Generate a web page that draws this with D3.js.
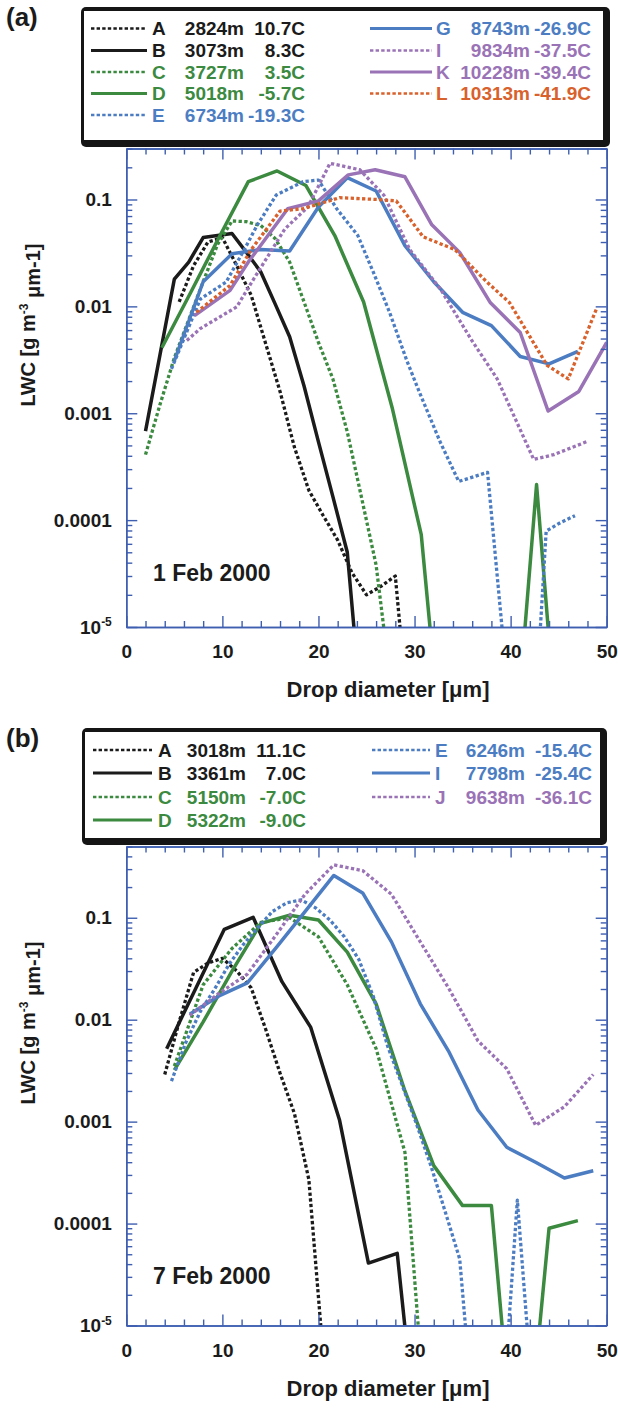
<!DOCTYPE html>
<html>
<head>
<meta charset="utf-8">
<script src="https://cdn.jsdelivr.net/npm/d3@7"></script>
<style>
  body { margin: 0; background: #fff; }
  svg { display: block; }
  text { font-family: "Liberation Sans", Arial, Helvetica, sans-serif; font-weight: bold; }
</style>
</head>
<body>
<svg id="chart" width="618" height="1408"></svg>
<script>
// ---------- 1 Feb 2000: drop diameter [µm] and LWC [g m-3 µm-1] ----------
const feb01_ids   = ["A", "B", "C", "D", "E", "G", "I", "K", "L"];
const feb01_alts  = ["2824m", "3073m", "3727m", "5018m", "6734m", "8743m", "9834m", "10228m", "10313m"];
const feb01_temps = ["10.7C", "8.3C", "3.5C", "-5.7C", "-19.3C", "-26.9C", "-37.5C", "-39.4C", "-41.9C"];

const feb01_A_diam = [5.5, 7.0, 8.5, 10.0, 11.5, 13.0, 14.5, 16.0, 17.5, 19.0, 20.5, 22.0, 23.5, 25.0, 26.5, 28.0, 29.5];
const feb01_A_lwc  = [0.011, 0.024, 0.040, 0.044, 0.024, 0.0127, 0.0045, 0.0016, 4.8e-4, 1.9e-4, 1.1e-4, 6.5e-5, 3.2e-5, 2.0e-5, 2.4e-5, 3.0e-5, 1e-6];

const feb01_B_diam = [2.0, 3.5, 5.0, 6.5, 8.0, 9.5, 11.0, 12.5, 14.0, 15.5, 17.0, 18.5, 20.0, 21.5, 23.0, 24.5];
const feb01_B_lwc  = [6.8e-4, 0.0035, 0.018, 0.026, 0.044, 0.046, 0.048, 0.032, 0.021, 0.0105, 0.0052, 0.0018, 5.4e-4, 1.66e-4, 5e-5, 1.5e-6];

const feb01_C_diam = [2.0, 3.5, 5.0, 6.5, 8.0, 9.5, 11.0, 12.5, 14.0, 15.5, 17.0, 18.5, 20.0, 21.5, 23.0, 24.5, 26.0, 27.5];
const feb01_C_lwc  = [4.1e-4, 0.0012, 0.0033, 0.0075, 0.017, 0.038, 0.063, 0.062, 0.057, 0.043, 0.026, 0.011, 0.0046, 0.0021, 6.7e-4, 1.6e-4, 3.8e-5, 3e-6];

const feb01_D_diam = [3.7, 6.7, 9.7, 12.7, 15.7, 18.7, 21.7, 24.7, 27.7, 30.7, 33.7, 36.7, 39.7, 42.7, 45.7];
const feb01_D_lwc  = [0.0041, 0.0135, 0.045, 0.147, 0.185, 0.135, 0.046, 0.011, 0.0011, 7.3e-5, 1e-7, 1e-7, 1e-7, 2.15e-4, 1e-7];

const feb01_E_diam = [4.7, 7.7, 10.4, 12.5, 13.6, 15.6, 18.4, 20.0, 21.9, 24.1, 25.7, 27.4, 29.2, 30.6, 32.7, 34.6, 37.6, 39.2, 40.7, 42.2, 43.7, 45.2, 46.7];
const feb01_E_lwc  = [0.0026, 0.0117, 0.0169, 0.037, 0.057, 0.11, 0.147, 0.152, 0.082, 0.046, 0.021, 0.0088, 0.0031, 0.0015, 5.3e-4, 2.3e-4, 2.8e-4, 8e-6, 1e-7, 4.5e-7, 7.9e-5, 9.5e-5, 1.1e-4];

const feb01_G_diam = [5, 8, 11, 14, 17, 20, 23, 26, 29, 32, 35, 38, 41, 44, 47];
const feb01_G_lwc  = [0.0031, 0.017, 0.031, 0.034, 0.033, 0.085, 0.16, 0.12, 0.037, 0.017, 0.0088, 0.0066, 0.0034, 0.0029, 0.0038];

const feb01_I_diam = [6.3, 7.7, 11.5, 12.9, 16.5, 18.9, 21.2, 24.3, 26.8, 29.5, 32.7, 35.9, 38.6, 42.4, 44.5, 48.1];
const feb01_I_lwc  = [0.0048, 0.0062, 0.0099, 0.016, 0.053, 0.085, 0.218, 0.19, 0.11, 0.034, 0.0145, 0.0049, 0.0021, 3.7e-4, 4.1e-4, 5.5e-4];

const feb01_K_diam = [7.1, 10.8, 12.7, 16.8, 20.0, 23.1, 25.9, 29.0, 31.8, 34.7, 37.9, 41.0, 43.9, 47.1, 50.0];
const feb01_K_lwc  = [0.0082, 0.0141, 0.026, 0.082, 0.097, 0.17, 0.19, 0.163, 0.058, 0.032, 0.0108, 0.0057, 0.00105, 0.0016, 0.0046];

const feb01_L_diam = [7.3, 10.8, 13.0, 16.0, 18.4, 22.2, 26.1, 28.1, 30.9, 34.2, 37.5, 39.9, 43.8, 46.0, 49.0];
const feb01_L_lwc  = [0.0088, 0.0157, 0.034, 0.078, 0.082, 0.104, 0.1, 0.097, 0.0447, 0.034, 0.017, 0.0108, 0.0028, 0.0021, 0.0098];

// ---------- 7 Feb 2000 ----------
const feb07_ids   = ["A", "B", "C", "D", "E", "I", "J"];
const feb07_alts  = ["3018m", "3361m", "5150m", "5322m", "6246m", "7798m", "9638m"];
const feb07_temps = ["11.1C", "7.0C", "-7.0C", "-9.0C", "-15.4C", "-25.4C", "-36.1C"];

const feb07_A_diam = [4.0, 5.5, 7.0, 8.5, 10.0, 11.5, 13.0, 14.5, 16.0, 17.5, 19.0, 20.5];
const feb07_A_lwc  = [0.0029, 0.0095, 0.029, 0.036, 0.040, 0.030, 0.0205, 0.0081, 0.0030, 0.0012, 2.7e-4, 5e-6];

const feb07_B_diam = [4.2, 7.2, 10.2, 13.2, 16.2, 19.2, 22.2, 25.2, 28.2, 31.2];
const feb07_B_lwc  = [0.0052, 0.02, 0.077, 0.101, 0.0236, 0.0084, 0.00103, 4.1e-5, 5.1e-5, 1e-7];

const feb07_C_diam = [5, 8, 11, 14, 17, 20, 23, 26, 29, 32];
const feb07_C_lwc  = [0.0035, 0.022, 0.05, 0.09, 0.1, 0.065, 0.022, 0.0052, 5e-4, 1e-7];

const feb07_D_diam = [5, 8, 11, 14, 17, 20, 23, 26, 29, 32, 35, 38, 41, 44, 47];
const feb07_D_lwc  = [0.0032, 0.0095, 0.03, 0.088, 0.106, 0.095, 0.046, 0.0143, 0.002, 3.7e-4, 1.5e-4, 1.5e-4, 1e-7, 9e-5, 1.07e-4];

const feb07_E_diam = [4.7, 6.2, 7.7, 9.2, 10.7, 12.2, 13.7, 15.2, 16.7, 18.2, 19.7, 21.2, 22.7, 24.2, 25.7, 27.2, 28.7, 30.2, 31.7, 33.2, 34.7, 36.2, 37.7, 39.2, 40.7, 42.2];
const feb07_E_lwc  = [0.0025, 0.006, 0.012, 0.02, 0.035, 0.055, 0.08, 0.115, 0.14, 0.15, 0.125, 0.095, 0.065, 0.039, 0.017, 0.0055, 0.0023, 9.5e-4, 3.7e-4, 1.3e-4, 4.5e-5, 1e-6, 1e-7, 1.5e-6, 1.7e-4, 2.5e-6];

const feb07_I_diam = [6.6, 9.6, 12.6, 15.6, 18.6, 21.6, 24.6, 27.6, 30.6, 33.6, 36.6, 39.6, 42.6, 45.6, 48.6];
const feb07_I_lwc  = [0.0113, 0.017, 0.023, 0.051, 0.115, 0.26, 0.175, 0.058, 0.0143, 0.0048, 0.0013, 5.6e-4, 4.0e-4, 2.8e-4, 3.3e-4];

const feb07_J_diam = [6.6, 9.6, 12.6, 15.6, 18.6, 21.6, 24.6, 27.6, 30.6, 33.6, 36.6, 39.6, 42.6, 45.6, 48.6];
const feb07_J_lwc  = [0.011, 0.018, 0.028, 0.068, 0.17, 0.33, 0.29, 0.17, 0.058, 0.02, 0.0062, 0.0033, 9.2e-4, 0.0014, 0.0029];

// ---------- axis ticks ----------
const diamMajorTicks = [0, 10, 20, 30, 40, 50];
const diamMinorTicks = [2, 4, 6, 8, 12, 14, 16, 18, 22, 24, 26, 28, 32, 34, 36, 38, 42, 44, 46, 48];
const lwcDecades = [1e-5, 1e-4, 1e-3, 1e-2, 1e-1];
const lwcMantissas = [2, 3, 4, 5, 6, 7, 8, 9];

// ---------- styles ----------
const BLACK = "#1b1b1b", GREEN = "#3b8a3f", BLUE = "#4c7dc2", PURPLE = "#9a73b6", ORANGE = "#d8612c";
const AXIS = "#3e5eb0";
const seriesStyle = {
  feb01: { A: [BLACK, true], B: [BLACK, false], C: [GREEN, true], D: [GREEN, false], E: [BLUE, true],
           G: [BLUE, false], I: [PURPLE, true], K: [PURPLE, false], L: [ORANGE, true] },
  feb07: { A: [BLACK, true], B: [BLACK, false], C: [GREEN, true], D: [GREEN, false], E: [BLUE, true],
           I: [BLUE, false], J: [PURPLE, true] }
};

const feb01Data = {
  A: [feb01_A_diam, feb01_A_lwc], B: [feb01_B_diam, feb01_B_lwc], C: [feb01_C_diam, feb01_C_lwc],
  D: [feb01_D_diam, feb01_D_lwc], E: [feb01_E_diam, feb01_E_lwc], G: [feb01_G_diam, feb01_G_lwc],
  I: [feb01_I_diam, feb01_I_lwc], K: [feb01_K_diam, feb01_K_lwc], L: [feb01_L_diam, feb01_L_lwc]
};
const feb07Data = {
  A: [feb07_A_diam, feb07_A_lwc], B: [feb07_B_diam, feb07_B_lwc], C: [feb07_C_diam, feb07_C_lwc],
  D: [feb07_D_diam, feb07_D_lwc], E: [feb07_E_diam, feb07_E_lwc], I: [feb07_I_diam, feb07_I_lwc],
  J: [feb07_J_diam, feb07_J_lwc]
};

function buildSeries(key, ids, alts, temps, data) {
  return ids.map((id, i) => ({
    id, alt: alts[i], temp: temps[i],
    points: d3.zip(data[id][0], data[id][1]),
    color: seriesStyle[key][id][0], dashed: seriesStyle[key][id][1]
  }));
}

const svg = d3.select("#chart");
const X_RANGE = [126.3, 606.7];

function drawPanel(p) {
  const x = d3.scaleLinear().domain([0, 50]).range(X_RANGE);
  const y = d3.scaleLog().domain([1e-5, p.ymax]).range([p.bottom, p.top]);
  const g = svg.append("g");

  // plot-area clip so off-scale values leave through the bottom edge
  const clipId = "clip-" + p.key;
  svg.append("defs").append("clipPath").attr("id", clipId)
    .append("rect").attr("x", X_RANGE[0]).attr("y", p.top)
    .attr("width", X_RANGE[1] - X_RANGE[0]).attr("height", p.bottom - p.top);

  const line = d3.line().x(d => x(d[0])).y(d => y(d[1]));
  g.append("g").attr("clip-path", `url(#${clipId})`)
    .selectAll("path").data(p.series).join("path")
    .attr("d", s => line(s.points))
    .attr("fill", "none")
    .attr("stroke", s => s.color)
    .attr("stroke-width", s => s.dashed ? 3.3 : 3.5)
    .attr("stroke-dasharray", s => s.dashed ? "3.3 2.4" : null)
    .attr("stroke-linejoin", "round");

  const minorY = [];
  lwcDecades.forEach(dec => lwcMantissas.forEach(m => { const v = m * dec; if (v <= p.ymax * 1.0001) minorY.push(v); }));
  const fmt = v => { const e = Math.round(Math.log10(v)); return e <= -5 ? "10" : v.toFixed(-e); };

  const styleAxis = sel => {
    sel.select(".domain").attr("stroke", AXIS).attr("stroke-width", 1.5);
    sel.selectAll(".tick line").attr("stroke", AXIS).attr("stroke-width", 1.4);
    sel.selectAll(".tick text").attr("fill", BLACK).attr("font-size", "19px")
      .attr("font-family", '"Liberation Sans", Arial, sans-serif').attr("font-weight", "bold");
  };

  // bottom & top
  g.append("g").attr("transform", `translate(0,${p.bottom})`)
    .call(d3.axisBottom(x).tickValues(diamMinorTicks).tickSize(-6).tickSizeOuter(0).tickFormat(""))
    .call(styleAxis);
  g.append("g").attr("transform", `translate(0,${p.bottom})`)
    .call(d3.axisBottom(x).tickValues(diamMajorTicks).tickSize(-11).tickSizeOuter(0).tickPadding(18).tickFormat(d3.format("d")))
    .call(styleAxis);
  g.append("g").attr("transform", `translate(0,${p.top})`)
    .call(d3.axisTop(x).tickValues(diamMinorTicks).tickSize(-6).tickSizeOuter(0).tickFormat(""))
    .call(styleAxis);
  g.append("g").attr("transform", `translate(0,${p.top})`)
    .call(d3.axisTop(x).tickValues(diamMajorTicks).tickSize(-11).tickSizeOuter(0).tickFormat(""))
    .call(styleAxis);

  // left & right (log)
  g.append("g").attr("transform", `translate(${X_RANGE[0]},0)`)
    .call(d3.axisLeft(y).tickValues(minorY).tickSize(-6).tickSizeOuter(0).tickFormat(""))
    .call(styleAxis);
  const left = g.append("g").attr("transform", `translate(${X_RANGE[0]},0)`)
    .call(d3.axisLeft(y).tickValues(lwcDecades).tickSize(-11).tickSizeOuter(0).tickPadding(14.5).tickFormat(fmt))
    .call(styleAxis);
  left.selectAll(".tick text").filter(v => Math.round(Math.log10(v)) <= -5)
    .append("tspan").attr("dy", "-0.6em").attr("font-size", "12px").text("-5");
  g.append("g").attr("transform", `translate(${X_RANGE[1]},0)`)
    .call(d3.axisRight(y).tickValues(minorY).tickSize(-6).tickSizeOuter(0).tickFormat(""))
    .call(styleAxis);
  g.append("g").attr("transform", `translate(${X_RANGE[1]},0)`)
    .call(d3.axisRight(y).tickValues(lwcDecades).tickSize(-11).tickSizeOuter(0).tickFormat(""))
    .call(styleAxis);

  // axis titles
  g.append("text").attr("x", 388).attr("y", p.bottom + 70).attr("text-anchor", "middle")
    .attr("font-size", "22px").attr("fill", BLACK).text("Drop diameter [\u03bcm]");
  const yt = g.append("text").attr("transform", `translate(35,${p.yTitleY}) rotate(-90)`)
    .attr("text-anchor", "middle").attr("font-size", "20px").attr("fill", BLACK);
  yt.append("tspan").text("LWC [g m");
  yt.append("tspan").attr("dy", "-0.6em").attr("font-size", "12px").text("-3");
  yt.append("tspan").attr("dy", "0.6em").text(" \u03bcm-1]");

  // date label and panel letter
  g.append("text").attr("x", 153).attr("y", p.dateY).attr("font-size", "23px").attr("fill", BLACK).text(p.date);
  g.append("text").attr("x", 6).attr("y", p.letterY).attr("font-size", "26px").attr("fill", BLACK).text(p.letter);

  // legend box
  const L = p.legend;
  g.append("rect").attr("x", L.x0).attr("y", L.y0).attr("width", L.x1 - L.x0).attr("height", L.y1 - L.y0)
    .attr("rx", 5).attr("fill", "#151515");
  g.append("rect").attr("x", L.x0 + 3).attr("y", L.y0 + 4).attr("width", L.x1 - L.x0 - 10).attr("height", L.y1 - L.y0 - 11)
    .attr("fill", "#fff");

  L.cols.forEach(col => {
    p.series.slice(col.from, col.to).forEach((s, r) => {
      const yy = L.rows[r];
      g.append("line").attr("x1", col.lx0).attr("x2", col.lx1).attr("y1", yy).attr("y2", yy)
        .attr("stroke", s.color).attr("stroke-width", s.dashed ? 2.4 : 3)
        .attr("stroke-dasharray", s.dashed ? "3.4 2.2" : null);
      const t = (xx, anchor, str) => g.append("text").attr("x", xx).attr("y", yy).attr("dy", "0.35em")
        .attr("text-anchor", anchor).attr("font-size", "19px").attr("fill", s.color).text(str);
      t(col.idX, "start", s.id);
      t(col.altX, "end", s.alt);
      t(col.tempX, "end", s.temp);
    });
  });
}

drawPanel({
  key: "feb01", top: 148.5, bottom: 627, ymax: 0.3,
  series: buildSeries("feb01", feb01_ids, feb01_alts, feb01_temps, feb01Data),
  yTitleY: 325, date: "1 Feb 2000", dateY: 581, letter: "(a)", letterY: 26,
  legend: {
    x0: 81, y0: 7, x1: 610, y1: 147,
    rows: [28.5, 50.5, 72, 93.5, 115],
    cols: [
      { from: 0, to: 5, lx0: 91, lx1: 147, idX: 152, altX: 244, tempX: 305 },
      { from: 5, to: 9, lx0: 370, lx1: 432, idX: 436, altX: 530, tempX: 591 }
    ]
  }
});

drawPanel({
  key: "feb07", top: 846.5, bottom: 1325.5, ymax: 0.5,
  series: buildSeries("feb07", feb07_ids, feb07_alts, feb07_temps, feb07Data),
  yTitleY: 1023, date: "7 Feb 2000", dateY: 1284, letter: "(b)", letterY: 747,
  legend: {
    x0: 82, y0: 728, x1: 607, y1: 845,
    rows: [750, 773, 797, 820],
    cols: [
      { from: 0, to: 4, lx0: 93, lx1: 152, idX: 158, altX: 246, tempX: 306 },
      { from: 4, to: 7, lx0: 372, lx1: 430, idX: 435, altX: 525, tempX: 592 }
    ]
  }
});
</script>
</body>
</html>
